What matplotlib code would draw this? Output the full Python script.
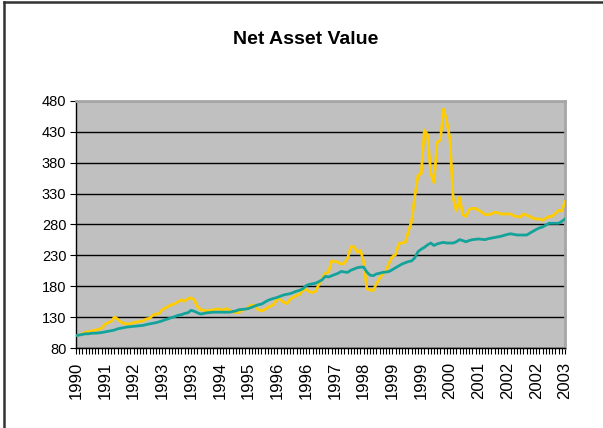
import numpy as np
import matplotlib.pyplot as plt
from matplotlib.lines import Line2D

plt.rcParams['font.family'] = ['Liberation Sans', 'DejaVu Sans']

# -------------------------------
# Data (one value per category)
# -------------------------------
year_labels = ["1990", "1991", "1992", "1993", "1993", "1994", "1995", "1996", "1996",
               "1997", "1998", "1999", "1999", "2000", "2001", "2002", "2002", "2003"]

fund_nav = [
    100, 101, 103, 106, 106, 108, 109, 110, 112,
    118, 121, 123, 130, 127, 122, 120, 119, 119,
    121, 122, 123, 124, 127, 128, 133, 135, 136,
    142, 145, 148, 150, 152, 155, 158, 156, 160,
    161, 158, 147, 142, 141, 140, 141, 142, 143,
    143, 141, 144, 141, 139, 137, 138, 141, 143,
    146, 150, 148, 142, 140, 142, 146, 148, 151,
    161, 158, 154, 152, 159, 162, 165, 167, 174,
    175, 171, 170, 172, 183, 192, 201, 203, 221,
    220, 219, 216, 217, 226, 244, 244, 235, 238,
    220, 176, 174, 173, 184, 193, 200, 205, 218,
    228, 231, 249, 250, 251, 269, 285, 325, 360,
    362, 433, 425, 363, 348, 413, 417, 467, 447,
    418, 323, 302, 324, 296, 293, 304, 306, 306,
    303, 300, 296, 296, 297, 300, 299, 297, 297,
    297, 297, 294, 293, 292, 297, 295, 293, 290,
    289, 289, 287, 290, 293, 293, 298, 303, 302,
    317,
]

benchmark_nav = [
    100, 101, 102, 103, 103, 104, 104, 104.5, 105,
    106, 107, 108, 109, 111, 112, 113, 114, 114.5,
    115, 115.5, 116, 116.6, 118, 119, 120, 121, 122.5,
    124, 126, 127.5, 129.5, 131, 133, 134, 136, 137,
    141, 139.5, 137, 135, 136, 137, 137.5, 138, 138,
    138, 138, 138, 138, 139, 140, 142, 142.5, 143,
    144, 146, 148, 150, 151, 154, 157, 159, 160.5,
    162, 164, 166, 167, 168, 170, 172, 173.5, 176,
    181, 183, 184, 185, 187.5, 190.5, 196, 195, 197,
    199, 201, 204, 203, 202.5, 206, 208, 210, 211,
    211, 203, 198, 197, 200, 201, 202.5, 203, 204,
    207, 210, 213, 216, 218, 220, 221, 226, 236,
    240, 243, 247, 250, 246, 248.5, 250, 251, 250,
    250, 250, 252, 255.5, 254, 252, 254, 255.5, 256,
    256.5, 256, 255.5, 257, 258, 259, 260, 261, 262.5,
    264, 265, 264, 263, 263, 263, 263, 266, 269,
    272, 274.5, 276, 279, 282, 282, 282, 282, 285,
    289,
]

label_step = 9

# -------------------------------
# Figure
# -------------------------------
fig = plt.figure(figsize=(6.03, 4.28), dpi=100)
ax = fig.add_axes([76 / 603, 80 / 428, 489 / 603, 247 / 428])
ax.set_facecolor("#C0C0C0")

x = np.arange(len(fund_nav))
ax.plot(x, fund_nav, color="#FFCC00", lw=2.0, zorder=3)
ax.plot(x, benchmark_nav, color="#14A39A", lw=2.0, zorder=4)

ax.set_xlim(0, len(fund_nav) - 1)
ax.set_ylim(80, 480)
ax.set_yticks(np.arange(80, 481, 50))
ax.yaxis.grid(True, color="black", lw=1.0)
ax.set_axisbelow(True)

ax.set_xticks(x[::label_step])
ax.set_xticklabels(year_labels, rotation=90, fontsize=12)
ax.set_xticks(x, minor=True)
ax.tick_params(axis="x", which="both", direction="out", length=4, width=0.8, pad=6)
ax.tick_params(axis="y", direction="out", length=4, width=0.8, labelsize=10.5, pad=3)

for side in ["left", "bottom"]:
    ax.spines[side].set_color("black")
    ax.spines[side].set_linewidth(1.0)
for side in ["top", "right"]:
    ax.spines[side].set_color("#A6A6A6")
    ax.spines[side].set_linewidth(2.0)

fig.text(306 / 603, 1 - 39 / 428, "Net Asset Value", ha="center", va="center",
         fontsize=14, fontweight="bold")

# chart frame (left and top edges visible)
fig.add_artist(Line2D([4 / 603, 4 / 603], [0, 1 - 2 / 428], color="#333333", lw=1.8))
fig.add_artist(Line2D([4 / 603, 1], [1 - 2 / 428, 1 - 2 / 428], color="#333333", lw=1.8))

fig.savefig("out.png", dpi=100)
